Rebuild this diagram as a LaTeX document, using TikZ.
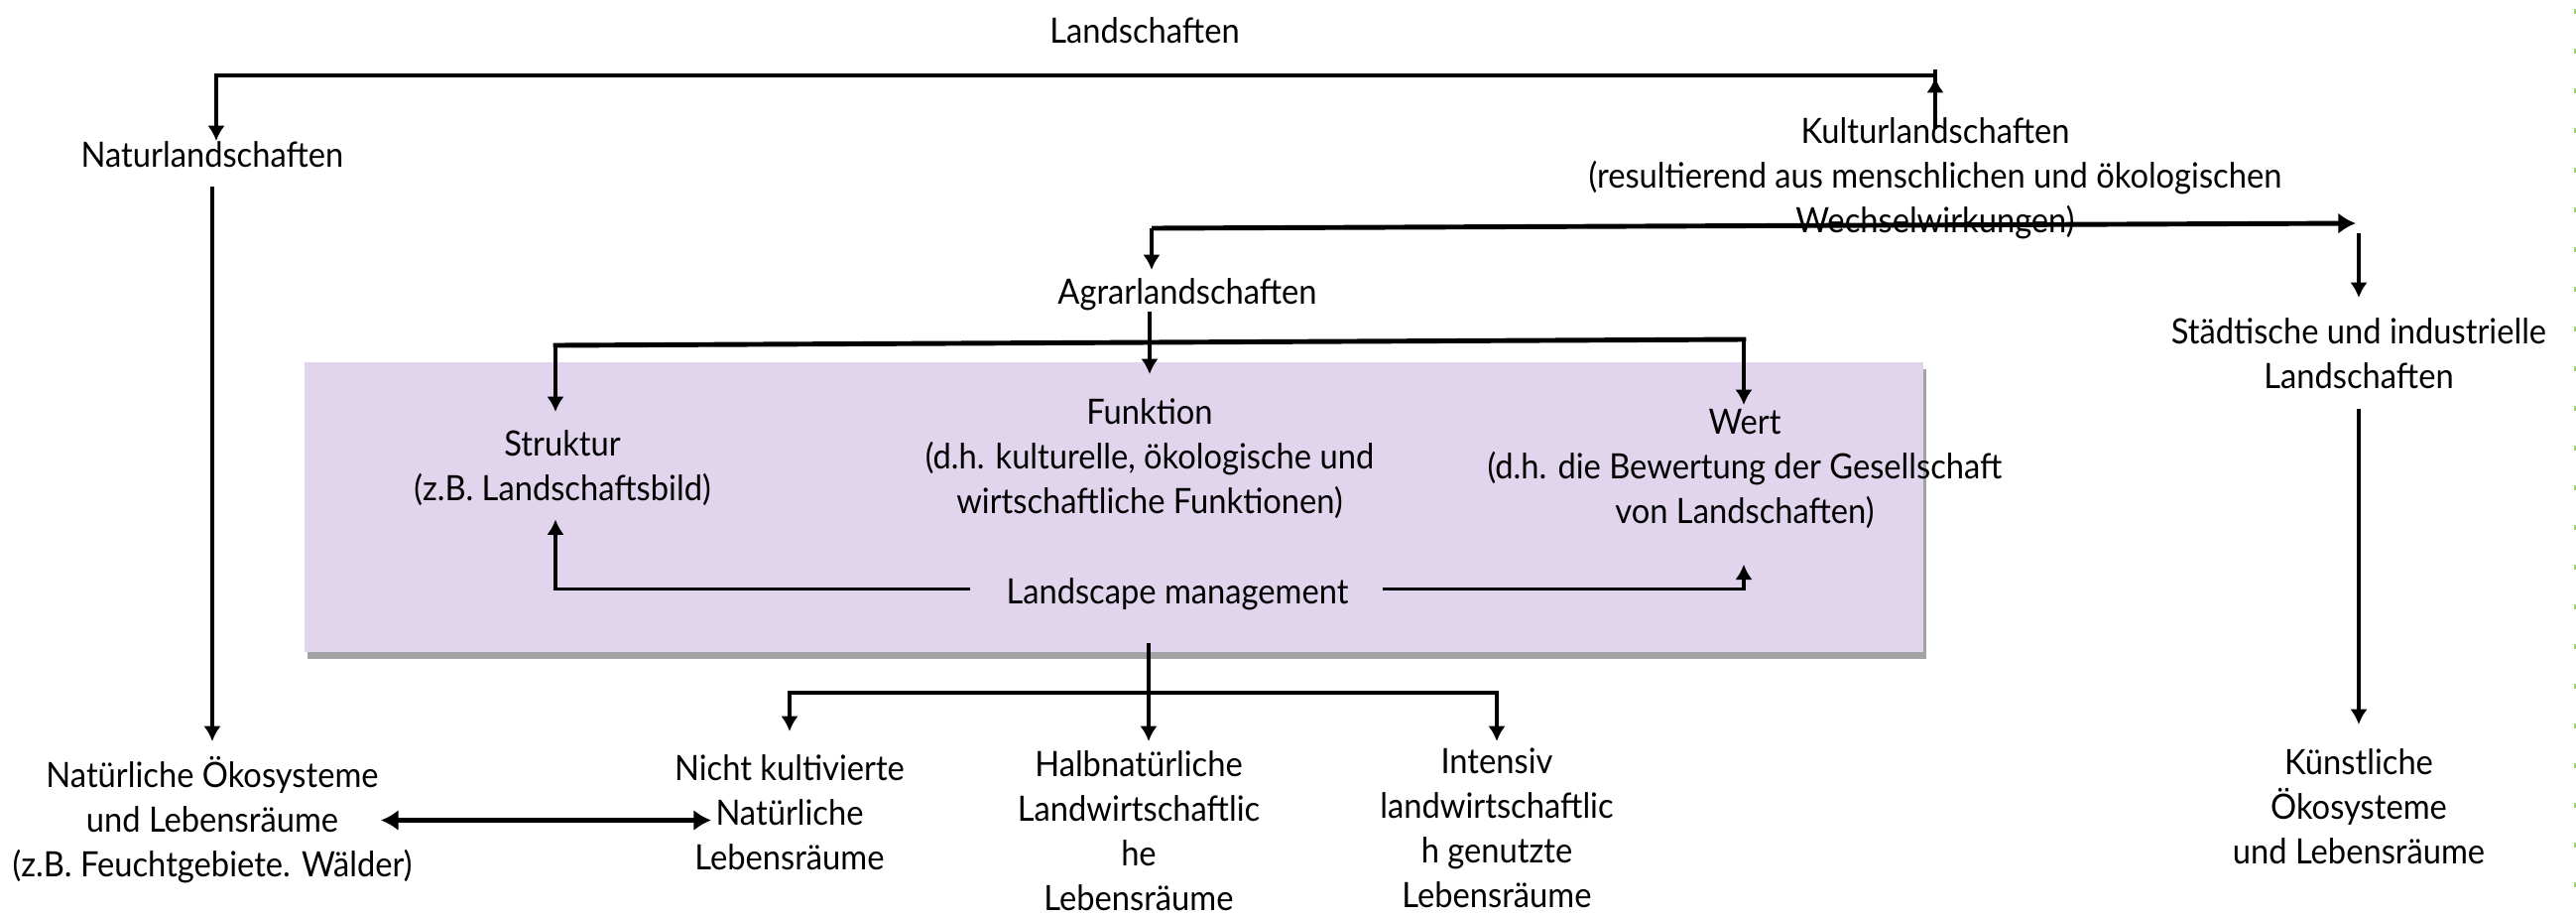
\documentclass[tikz,border=0pt]{standalone}
\usepackage{fontspec}
\setmainfont{Lato}[FakeStretch=0.93]
\usetikzlibrary{arrows.meta,shadows}
\definecolor{boxlila}{RGB}{225,213,238}
\definecolor{dotgreen}{RGB}{160,210,110}

\begin{document}
\begin{tikzpicture}[
		txt/.style={anchor=north,inner sep=0pt,align=center,font=\fontsize{10}{12.8}\selectfont},
		line/.style={line width=0.9pt},
		bus/.style={line width=1.4pt,line cap=rect},
		arr/.style={line width=0.9pt,-{Latex[length=4.4pt,width=5pt]}},
		busarr/.style={line width=1.4pt,-{Latex[length=5pt,width=6pt]}},
		dbl/.style={line width=1.4pt,{Latex[length=5pt,width=6pt]}-{Latex[length=5pt,width=6pt]}}
	]
		\useasboundingbox (0,0) rectangle (25.97,-9.23);
		% lila box behind the three aspects
		\fill[boxlila,drop shadow={shadow xshift=0.03cm,shadow yshift=-0.07cm,fill=black!60,opacity=0.6}] (3.07,-3.65) rectangle (19.39,-6.57);
		\draw[dotgreen,line width=0.015cm,dash pattern=on 0.05cm off 0.35cm] (25.96,-0.085) -- (25.96,-9.23);

		\node[txt] (land) at (11.54,-0.17) {Landschaften};
		\node[txt] (natur) at (2.14,-1.42) {Naturlandschaften};
		\node[txt] (kultur) at (19.51,-1.18) {Kulturlandschaften\\(resultierend aus menschlichen und ökologischen\\Wechselwirkungen)};
		\node[txt] (agrar) at (11.97,-2.80) {Agrarlandschaften};
		\node[txt] (staedt) at (23.78,-3.20) {Städtische und industrielle\\Landschaften};
		\node[txt] (kuenst) at (23.78,-7.54) {Künstliche\\Ökosysteme\\und Lebensräume};
		\node[txt] (struktur) at (5.67,-4.33) {Struktur\\(z.B. Landschaftsbild)};
		\node[txt] (funktion) at (11.59,-4.01) {Funktion\\(d.h. kulturelle, ökologische und\\wirtschaftliche Funktionen)};
		\node[txt] (wert) at (17.59,-4.12) {Wert\\(d.h. die Bewertung der Gesellschaft\\von Landschaften)};
		\node[txt] (lm) at (11.87,-5.82) {Landscape management};
		\node[txt] (natoeko) at (2.14,-7.62) {Natürliche Ökosysteme\\und Lebensräume\\(z.B. Feuchtgebiete. Wälder)};
		\node[txt] (nichtk) at (7.96,-7.60) {Nicht kultivierte\\Natürliche\\Lebensräume};
		\node[txt] (halb) at (11.48,-7.56) {Halbnatürliche\\Landwirtschaftlic\\he\\Lebensräume};
		\node[txt] (intens) at (15.09,-7.53) {Intensiv\\landwirtschaftlic\\h genutzte\\Lebensräume};

		% junctions of the bars
		\coordinate (j1) at (2.18,-0.76);
		\coordinate (j2) at (19.51,-0.76);
		\coordinate (j3) at (11.61,-2.30);
		\coordinate (j4) at (23.75,-2.25);
		\coordinate (j5) at (5.60,-3.48);
		\coordinate (j6) at (17.58,-3.42);
		\coordinate (j7) at (11.58,-6.48);
		\coordinate (j8) at (7.96,-6.98);
		\coordinate (j9) at (15.09,-6.98);

		\draw[bus] (j1) -- (j2);
		\draw[arr] (j1) -- (j1 |- natur.north);
		\draw[line] ([yshift=0.06cm]j2) -- ([yshift=-0.12cm]kultur.north);
		\draw[arr] ([yshift=-0.12cm]kultur.north) -- ([yshift=-0.02cm]j2);
		\draw[arr,shorten <=0.18cm,shorten >=0.15cm] (natur.south) -- (natur.south |- natoeko.north);

		\draw[busarr] (j3) -- (j4);
		\draw[arr,shorten >=0.08cm] (j3) -- (j3 |- agrar.north);
		\draw[arr,shorten >=0.20cm] ([yshift=0.85cm]staedt.north) -- (staedt.north);
		\draw[arr,shorten <=0.19cm,shorten >=0.24cm] (staedt.south) -- (kuenst.north);

		\draw[bus] (j5) -- (j6);
		\draw[arr,shorten >=0.24cm] (funktion.north |- agrar.south) -- (funktion.north);
		\draw[arr,shorten >=0.18cm] (j5) -- (j5 |- struktur.north);
		\draw[arr,shorten >=0.04cm] (j6) -- (j6 |- wert.north);
		\draw[arr,shorten <=0.36cm,shorten >=0.13cm] ([yshift=0.05cm]lm.west) -| (j5 |- struktur.south);
		\draw[arr,shorten <=0.34cm,shorten >=0.35cm] ([yshift=0.05cm]lm.east) -| (j6 |- wert.south);

		\draw[arr,shorten >=0.09cm] (j7) -- (j7 |- halb.north);
		\draw[bus] (j8) -- (j9);
		\draw[arr,shorten >=0.23cm] (j8) -- (nichtk.north);
		\draw[arr,shorten >=0.06cm] (j9) -- (intens.north);
		\draw[dbl,shorten <=1.70cm,shorten >=0.79cm] (natoeko.center) -- (natoeko.center -| nichtk.center);
	\end{tikzpicture}
\end{document}
